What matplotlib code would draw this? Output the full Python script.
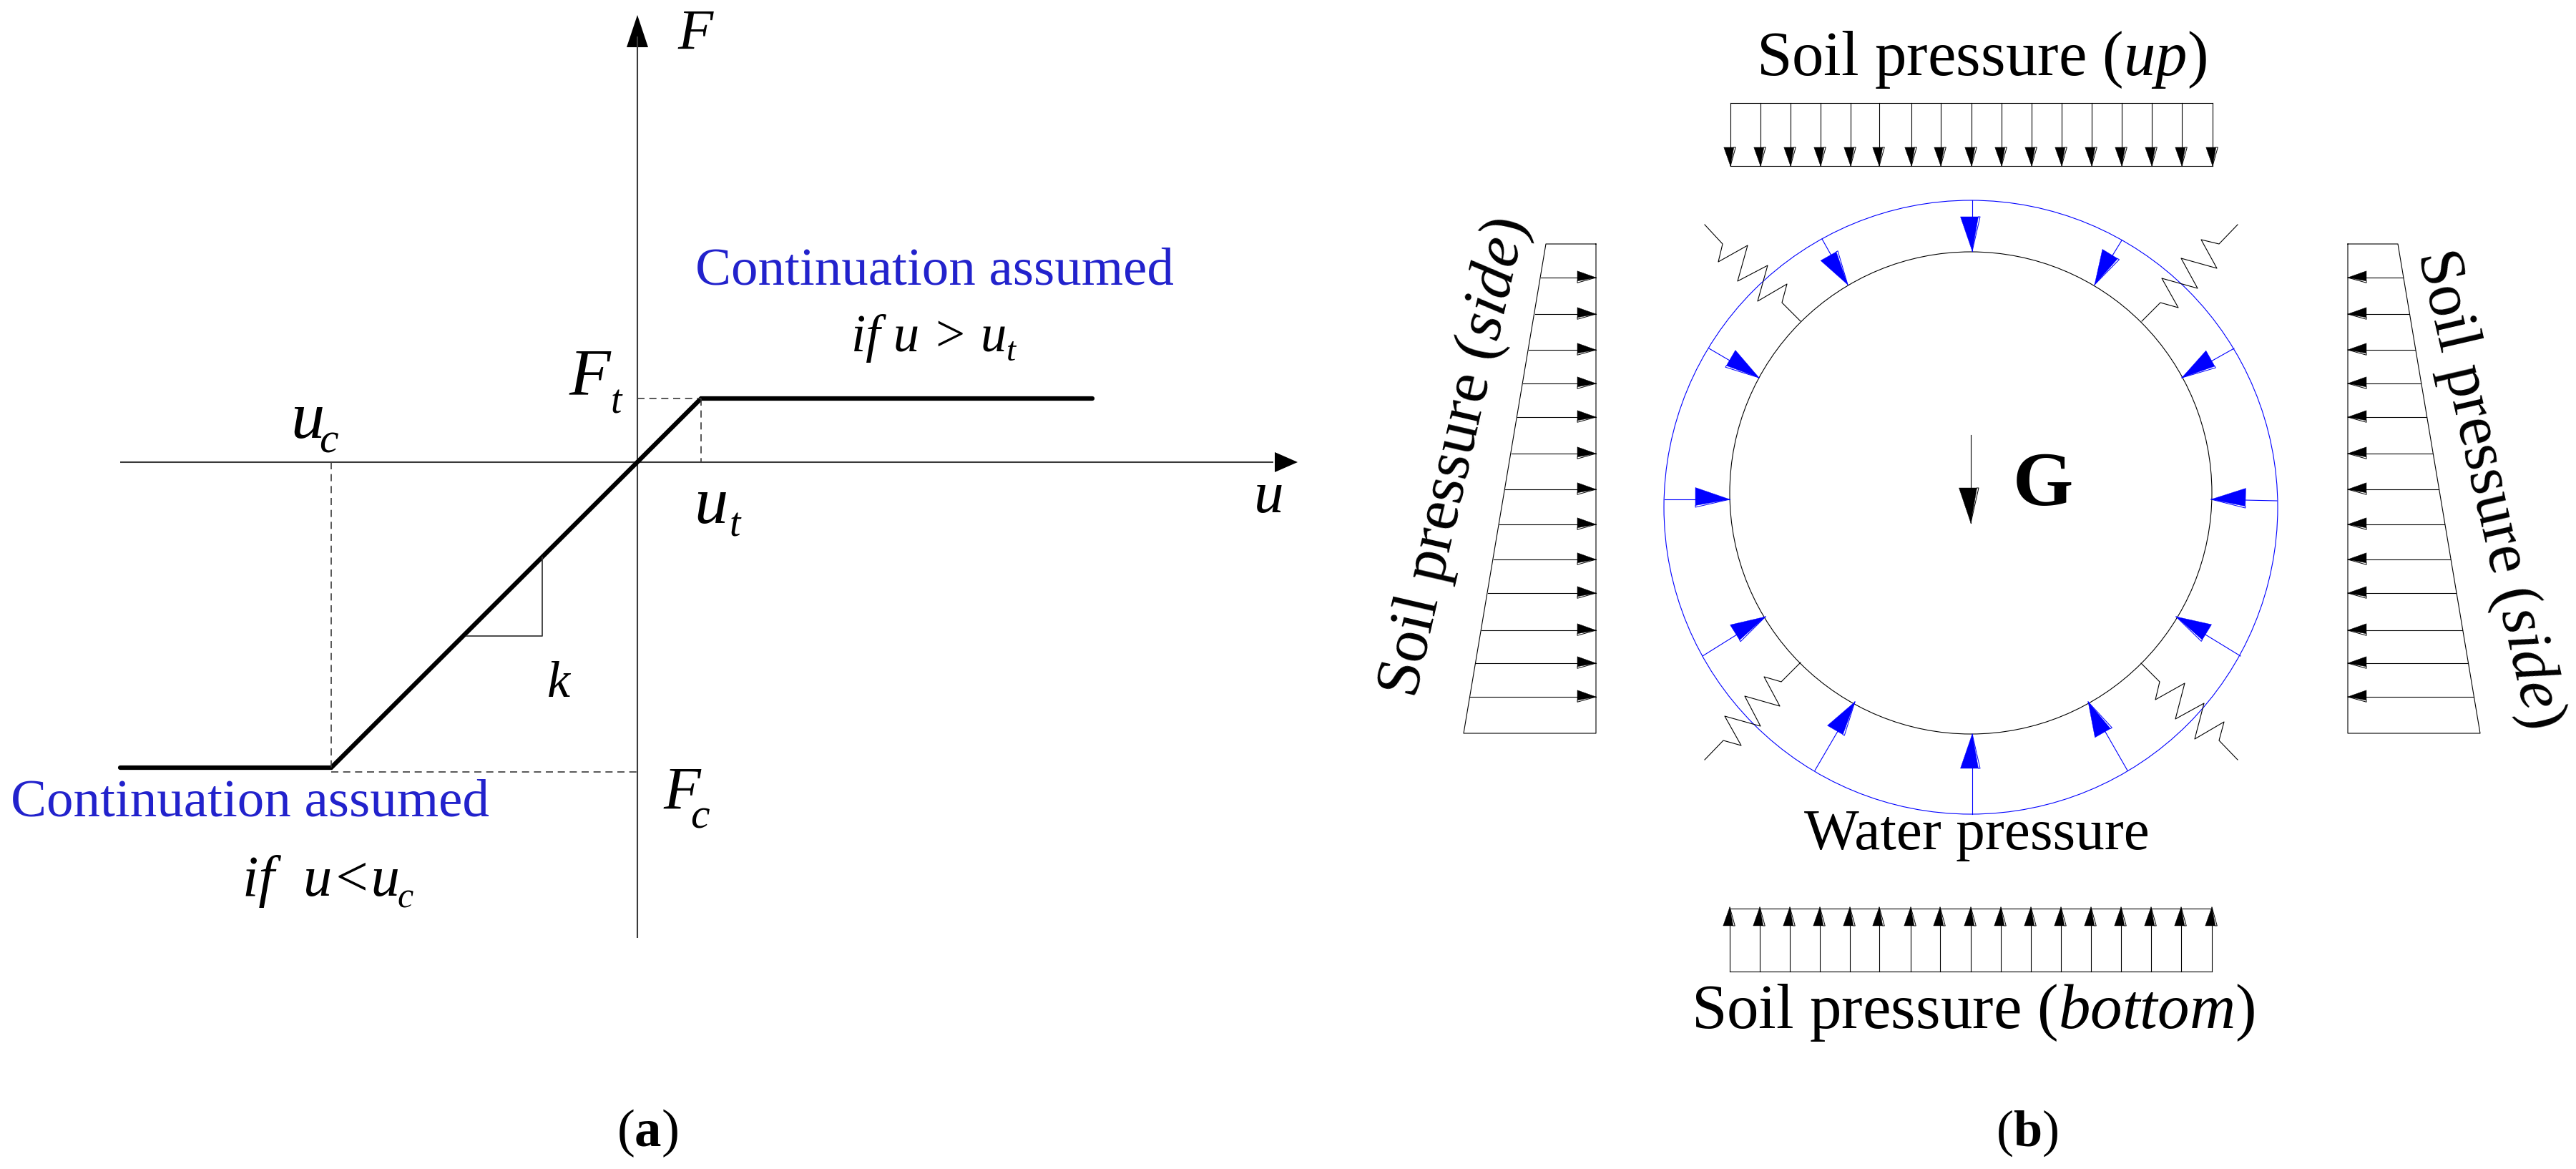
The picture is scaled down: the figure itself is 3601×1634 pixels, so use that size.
import numpy as np
import matplotlib
matplotlib.use("Agg")
import matplotlib.pyplot as plt
from matplotlib.patches import Circle, Polygon

plt.rcParams['font.family'] = ['Liberation Serif', 'DejaVu Serif']
plt.rcParams['mathtext.fontset'] = 'custom'
plt.rcParams['mathtext.rm'] = 'Liberation Serif'
plt.rcParams['mathtext.it'] = 'Liberation Serif:italic'
plt.rcParams['mathtext.bf'] = 'Liberation Serif:bold'

W, H, DPI = 3601, 1634, 100

# ---------- panel (a): force-displacement law ----------
origin_px = (891, 646)
u_c, u_t = -428, 89
F_c, F_t = -427, 89
F_c_dash = -433
u_min, u_max = -723, 636
F_axis_min, F_axis_max = -665, 625
law_u = [u_min, u_c, u_t, u_max]
law_F = [F_c, F_c, F_t, F_t]
slope_u = [-133, -133, -239]
slope_F = [-133, -243, -243]

# ---------- panel (b): tunnel ring loads (pixel-scale drawing units) ----------
inner_centre = (2755, 689)
inner_radius = 337
outer_centre = (2755, 709)
outer_radius = 429

water_outer_x = [2757, 2966, 3123, 3183, 3132, 2974, 2757, 2537, 2380, 2327, 2389, 2547]
water_outer_y = [280, 336, 487, 700, 917, 1077, 1138, 1077, 917, 698, 487, 334]
water_tip_x = [2757, 2928, 3050, 3091, 3042, 2919, 2757, 2593, 2468, 2418, 2459, 2583]
water_tip_y = [351, 398, 528, 698, 862, 981, 1026, 981, 862, 698, 528, 398]

spring_ul_x = [2383, 2408, 2402, 2443, 2429, 2471, 2457, 2498, 2491, 2517]
spring_ul_y = [314, 341, 366, 343, 393, 371, 421, 397, 423, 449]
spring_ur_x = [3128, 3102, 3077, 3099, 3049, 3072, 3022, 3045, 3020, 2994]
spring_ur_y = [314, 341, 335, 375, 361, 403, 389, 430, 423, 449]
spring_ll_x = [2517, 2490, 2466, 2488, 2439, 2461, 2411, 2434, 2409, 2383]
spring_ll_y = [926, 953, 946, 987, 973, 1015, 1001, 1042, 1035, 1062]
spring_lr_x = [2993, 3019, 3013, 3054, 3041, 3081, 3068, 3109, 3102, 3128]
spring_lr_y = [927, 953, 978, 955, 1005, 983, 1033, 1009, 1035, 1062]

top_x = [2419, 2461, 2503, 2545, 2587, 2627, 2672, 2713, 2756, 2798, 2840, 2882, 2924, 2966, 3008, 3050, 3093]
top_y0, top_y1 = 144, 232
bot_x = [2418, 2460, 2502, 2544, 2586, 2627, 2671, 2712, 2755, 2797, 2839, 2881, 2923, 2965, 3007, 3049, 3092]
bot_y0, bot_y1 = 1358, 1270

side_y = [388, 439, 489, 536, 583, 634, 684, 733, 782, 829, 881, 927, 974]
side_len = [77, 85, 94, 102, 110, 118, 127, 135, 143, 151, 160, 168, 176]
side_top, side_bot = 341, 1025
side_len_top, side_len_bot = 70, 185
side_left_x = 2231
side_right_x = 3282

gravity_x, gravity_y0, gravity_y1 = 2755, 608, 731

# ---------- figure ----------
fig = plt.figure(figsize=(W / DPI, H / DPI), dpi=DPI, facecolor='white')

ax_a = fig.add_axes([0, 0, 1, 1])
ax_a.set_xlim(-origin_px[0], W - origin_px[0])
ax_a.set_ylim(origin_px[1] - H, origin_px[1])
ax_a.axis('off')

ax_b = fig.add_axes([0, 0, 1, 1])
ax_b.set_xlim(0, W)
ax_b.set_ylim(H, 0)
ax_b.axis('off')
ax_b.patch.set_alpha(0)

GREY = '#3a3a3a'
BLUE_A = '#2222cc'
BLUE = '#0000ff'
DASH = (0, (6, 4))


def label(ax, x, y, s, size, style='normal', weight='normal', color='black', rot=0, ha='center'):
    ax.text(x, y, s, fontsize=size, fontstyle=style, fontweight=weight, color=color,
            rotation=rot, ha=ha, va='center', rotation_mode='anchor')


# panel (a) axes, curve, guides
ax_a.plot([u_min, 889], [0, 0], color=GREY, lw=1.5, solid_capstyle='butt')
ax_a.plot([0, 0], [F_axis_min, 595], color=GREY, lw=1.5, solid_capstyle='butt')
ax_a.add_patch(Polygon([[923, 0], [891, 14], [891, -14]], closed=True, fc='black', ec='none'))
ax_a.add_patch(Polygon([[0, F_axis_max], [-15, 580], [15, 580]], closed=True, fc='black', ec='none'))
ax_a.plot(law_u, law_F, color='black', lw=4.5, solid_capstyle='round', solid_joinstyle='miter')
ax_a.plot(slope_u, slope_F, color=GREY, lw=1.3)
ax_a.plot([0, u_t], [F_t, F_t], color=GREY, lw=1.2, ls=DASH)
ax_a.plot([u_t, u_t], [F_t, 0], color=GREY, lw=1.2, ls=DASH)
ax_a.plot([u_c, u_c], [0, F_c], color=GREY, lw=1.2, ls=DASH)
ax_a.plot([u_c, 0], [F_c_dash, F_c_dash], color=GREY, lw=1.2, ls=DASH)

# panel (a) text, written in pixel offsets from the origin
label(ax_a, 81, 597, 'F', 58, style='italic')
label(ax_a, 883, -50, 'u', 60, style='italic')
label(ax_a, -67, 117, 'F', 68, style='italic')
label(ax_a, -30, 83, 't', 40, style='italic')
label(ax_a, -461, 57, 'u', 68, style='italic')
label(ax_a, -432, 28, 'c', 43, style='italic')
label(ax_a, 103, -62, 'u', 68, style='italic')
label(ax_a, 136, -89, 't', 40, style='italic')
label(ax_a, -110, -311, 'k', 52, style='italic')
label(ax_a, 62, -464, 'F', 61, style='italic')
label(ax_a, 87, -497, 'c', 43, style='italic')
label(ax_a, 415, 266, 'Continuation assumed', 54, color=BLUE_A)
label(ax_a, -542, -477, 'Continuation assumed', 54, color=BLUE_A)
label(ax_a, 299, 173, 'if u > u', 52.5, style='italic', ha='left')
label(ax_a, 522, 153, 't', 34, style='italic')
label(ax_a, -552, -586, 'if  u<u', 58, style='italic', ha='left')
label(ax_a, -324, -610, 'c', 36, style='italic')
label(ax_a, 14, -938, r'($\mathbf{a}$)', 54)


def head(ax, tip, frm, color, length=48, width=25):
    tip = np.asarray(tip, float)
    frm = np.asarray(frm, float)
    d = (tip - frm) / np.hypot(*(tip - frm))
    n = np.array([-d[1], d[0]])
    if n @ np.array([1.0, 0.9]) < 0:
        n = -n
    b = tip - d * length
    near = width * 0.34
    far = width * 0.66
    ax.add_patch(Polygon([tip, b + n * near, b - n * far], closed=True, fc=color, ec=color, lw=0.3, zorder=3))
    ax.plot([tip[0], (b + n * (near + 2.5))[0], (b + n * near)[0]],
            [tip[1], (b + n * (near + 2.5))[1], (b + n * near)[1]], color=color, lw=0.7, zorder=3)


LW = 0.8
ax_b.add_patch(Circle(inner_centre, inner_radius, fc='none', ec='black', lw=LW))
ax_b.add_patch(Circle(outer_centre, outer_radius, fc='none', ec=BLUE, lw=LW))

for xo, yo, xt, yt in zip(water_outer_x, water_outer_y, water_tip_x, water_tip_y):
    ax_b.plot([xo, xt], [yo, yt], color=BLUE, lw=LW)
    head(ax_b, (xt, yt), (xo, yo), BLUE)

for sx, sy in [(spring_ul_x, spring_ul_y), (spring_ur_x, spring_ur_y),
               (spring_ll_x, spring_ll_y), (spring_lr_x, spring_lr_y)]:
    ax_b.plot(sx, sy, color='black', lw=LW)

# top uniform load
ax_b.plot([top_x[0], top_x[-1]], [top_y0, top_y0], color='black', lw=LW)
ax_b.plot([top_x[0], top_x[-1]], [top_y1, top_y1], color='black', lw=LW)
for x in top_x:
    ax_b.plot([x, x], [top_y0, top_y1], color='black', lw=LW)
    head(ax_b, (x, top_y1), (x, top_y0), 'black', length=26, width=14)

# bottom uniform load
ax_b.plot([bot_x[0], bot_x[-1]], [bot_y0, bot_y0], color='black', lw=LW)
ax_b.plot([bot_x[0], bot_x[-1]], [bot_y1, bot_y1], color='black', lw=LW)
for x in bot_x:
    ax_b.plot([x, x], [bot_y0, bot_y1], color='black', lw=LW)
    head(ax_b, (x, bot_y1 - 2), (x, bot_y0), 'black', length=26, width=14)

# side trapezoidal loads
ax_b.plot([side_left_x, side_left_x - side_len_top, side_left_x - side_len_bot, side_left_x, side_left_x],
          [side_top, side_top, side_bot, side_bot, side_top], color='black', lw=LW)
ax_b.plot([side_right_x, side_right_x + side_len_top, side_right_x + side_len_bot, side_right_x, side_right_x],
          [side_top, side_top, side_bot, side_bot, side_top], color='black', lw=LW)
for y, p in zip(side_y, side_len):
    ax_b.plot([side_left_x - p, side_left_x], [y, y], color='black', lw=LW)
    head(ax_b, (side_left_x, y), (side_left_x - p, y), 'black', length=26, width=14)
    ax_b.plot([side_right_x, side_right_x + p], [y, y], color='black', lw=LW)
    head(ax_b, (side_right_x, y), (side_right_x + p, y), 'black', length=26, width=14)

# gravity
ax_b.plot([gravity_x, gravity_x], [gravity_y0, gravity_y1], color='black', lw=LW)
head(ax_b, (gravity_x, gravity_y1), (gravity_x, gravity_y0), 'black', length=49, width=25)

# panel (b) text
label(ax_b, 2856, 680, 'G', 78, weight='bold')
label(ax_b, 2770, 83, r'Soil pressure ($\mathit{up}$)', 64)
label(ax_b, 2758, 1415, r'Soil pressure ($\mathit{bottom}$)', 64)
label(ax_b, 2763, 1167, 'Water pressure', 58.5)
label(ax_b, 2035, 640, r'Soil pressure ($\mathit{side}$)', 64, rot=77)
label(ax_b, 3478, 683, r'Soil pressure ($\mathit{side}$)', 64, rot=-77)
label(ax_b, 2834, 1584, r'($\mathbf{b}$)', 52)

fig.savefig('out.png', dpi=DPI, facecolor='white')
